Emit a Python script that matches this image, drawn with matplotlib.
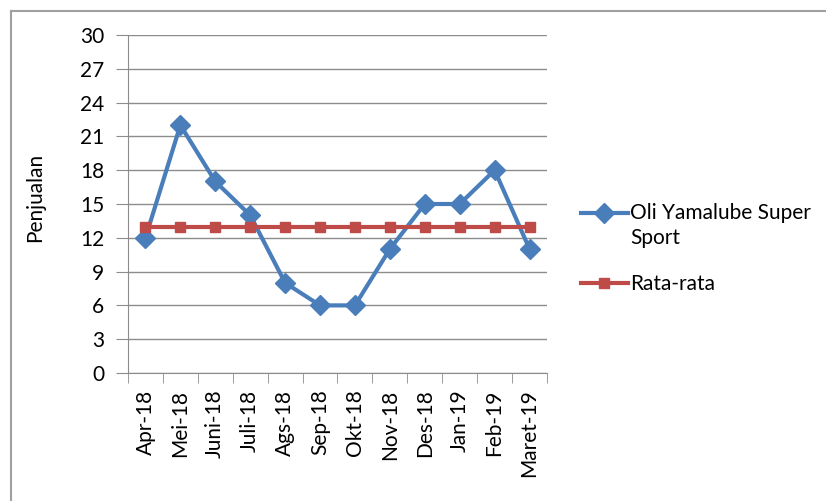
import matplotlib
matplotlib.use("Agg")
import matplotlib.pyplot as plt
from matplotlib.lines import Line2D
from matplotlib.legend_handler import HandlerLine2D
import numpy as np

months = ["Apr-18", "Mei-18", "Juni-18", "Juli-18", "Ags-18", "Sep-18", "Okt-18",
          "Nov-18", "Des-18", "Jan-19", "Feb-19", "Maret-19"]
sales = [12, 22, 17, 14, 8, 6, 6, 11, 15, 15, 18, 11]
avg_value = sum(sales) / len(sales)
average = [avg_value] * len(sales)
yticks = [0, 3, 6, 9, 12, 15, 18, 21, 24, 27, 30]

plt.rcParams['font.family'] = ['Lato', 'DejaVu Sans']
FS = 15

W, H = 826, 501
fig = plt.figure(figsize=(W / 100, H / 100), dpi=100)
ax = fig.add_axes([128 / W, 1 - 373 / H, (547 - 128) / W, (373 - 35) / H])

x = np.arange(len(months))
blue = "#4A7EBB"
red = "#BE4B48"
l1, = ax.plot(x, sales, color=blue, lw=3, marker="D", ms=10, mfc=blue, mec=blue,
              label="Oli Yamalube Super\nSport", zorder=3)
l2, = ax.plot(x, average, color=red, lw=3, marker="s", ms=7.5, mfc=red, mec=red,
              label="Rata-rata", zorder=3)

ax.set_xlim(-0.5, len(months) - 0.5)
ax.set_ylim(0, 30)
ax.set_yticks(yticks)
ax.set_yticklabels([str(v) for v in yticks], fontsize=FS)
ax.yaxis.grid(True, color="#8c8c8c", lw=1)
ax.set_axisbelow(True)
ax.tick_params(axis="y", length=9, color="#8c8c8c", pad=8)

ax.set_xticks(x)
ax.set_xticklabels(months, rotation=90, fontsize=FS)
ax.set_xticks(np.arange(-0.5, len(months)), minor=True)
ax.tick_params(axis="x", which="major", length=0, pad=12)
ax.tick_params(axis="x", which="minor", length=7, color="#8c8c8c")

for s in ["top", "right"]:
    ax.spines[s].set_visible(False)
for s in ["left", "bottom"]:
    ax.spines[s].set_color("#8c8c8c")

ax.set_ylabel("Penjualan", fontsize=FS)
ax.yaxis.set_label_coords(-0.198, 0.518)


class FirstLineHandler(HandlerLine2D):
    """Align the legend key with the first line of a two-line label."""
    def __init__(self, shift, **kw):
        super().__init__(**kw)
        self.shift = shift

    def create_artists(self, legend, orig_handle, xdescent, ydescent, width, height,
                       fontsize, trans):
        arts = super().create_artists(legend, orig_handle, xdescent, ydescent, width,
                                      height, fontsize, trans)
        for a in arts:
            a.set_ydata(np.asarray(a.get_ydata()) + self.shift)
        return arts


leg = fig.legend(handles=[l1, l2], loc="upper left",
                 bbox_to_anchor=(581 / W, 1 - 203 / H), frameon=False,
                 fontsize=FS, handlelength=2.25, handletextpad=0.1, labelspacing=1.25,
                 borderaxespad=0, borderpad=0,
                 handler_map={l1: FirstLineHandler(shift=9.5)})
for t in leg.get_texts():
    t.set_linespacing(1.3)

# outer chart frame (left and top borders)
fig.add_artist(Line2D([11 / W, 11 / W], [0, 1 - 11 / H], color="#a0a0a0", lw=1.5,
                      transform=fig.transFigure))
fig.add_artist(Line2D([11 / W, 1], [1 - 11 / H, 1 - 11 / H], color="#a0a0a0", lw=1.5,
                      transform=fig.transFigure))

fig.savefig("out.png", dpi=100)
